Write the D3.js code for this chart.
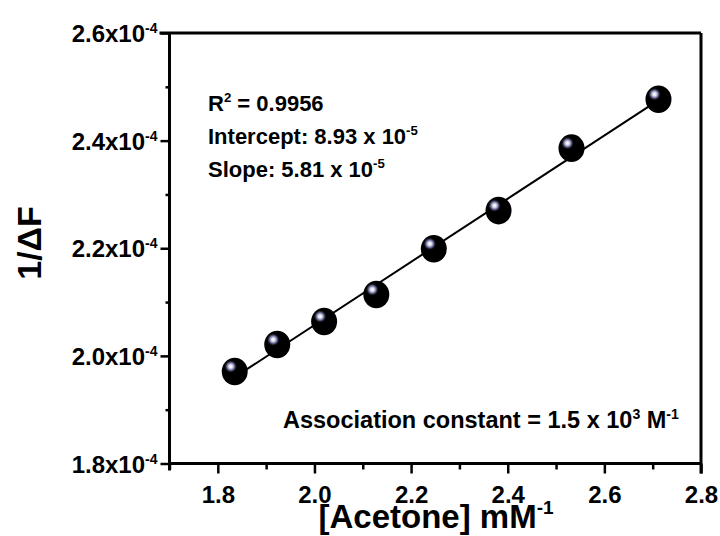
<!DOCTYPE html>
<html><head><meta charset="utf-8">
<script src="https://cdn.jsdelivr.net/npm/d3@7"></script>
<style>
html,body{margin:0;padding:0;background:#fff;}
svg{display:block;font-family:"Liberation Sans",Arial,sans-serif;font-weight:bold;}
</style></head>
<body>
<svg id="chart" width="720" height="536"></svg>
<script>
// ---- data ----
const acetoneInv = [1.835, 1.923, 2.020, 2.128, 2.247, 2.381, 2.532, 2.712];
const invDeltaF = [1.971e-4, 2.021e-4, 2.064e-4, 2.114e-4, 2.199e-4, 2.270e-4, 2.386e-4, 2.477e-4];
const xMajorTicks = [1.8, 2.0, 2.2, 2.4, 2.6, 2.8];
const xMinorTicks = [1.7, 1.9, 2.1, 2.3, 2.5, 2.7];
const yMajorTicks = [1.8e-4, 2.0e-4, 2.2e-4, 2.4e-4, 2.6e-4];
const yMinorTicks = [1.9e-4, 2.1e-4, 2.3e-4, 2.5e-4];
const yTickMantissa = ["1.8x10", "2.0x10", "2.2x10", "2.4x10", "2.6x10"];
const yTickExponent = "-4";
const statLines = [
  [["R", 0], ["2", 1], [" = 0.9956", 0]],
  [["Intercept: 8.93 x 10", 0], ["-5", 1]],
  [["Slope: 5.81 x 10", 0], ["-5", 1]]
];
const assocLine = [["Association constant = 1.5 x 10", 0], ["3", 1], [" M", 0], ["-1", 1]];

// ---- layout ----
const svg = d3.select("#chart");
const L = 169.5, R = 701, T = 33, B = 463.5;
const x = d3.scaleLinear().domain([1.7, 2.8]).range([L, R]);
const y = d3.scaleLinear().domain([1.8e-4, 2.6e-4]).range([B, T]);

// gradient for sphere highlight
const defs = svg.append("defs");
const g1 = defs.append("radialGradient").attr("id", "hl").attr("cx", "50%").attr("cy", "50%").attr("r", "50%");
g1.append("stop").attr("offset", "0%").attr("stop-color", "#ffffff").attr("stop-opacity", 1);
g1.append("stop").attr("offset", "25%").attr("stop-color", "#e6e6f2").attr("stop-opacity", 1);
g1.append("stop").attr("offset", "55%").attr("stop-color", "#7a7aa6").attr("stop-opacity", 1);
g1.append("stop").attr("offset", "80%").attr("stop-color", "#25253a").attr("stop-opacity", 0.8);
g1.append("stop").attr("offset", "100%").attr("stop-color", "#000000").attr("stop-opacity", 0);

// ---- axes ----
function styleAxis(g, sw) {
  g.select(".domain").attr("stroke", "#000").attr("stroke-width", 3);
  g.selectAll(".tick line").attr("stroke", "#000").attr("stroke-width", sw);
}
// left minor
svg.append("g").attr("transform", `translate(${L},0)`)
  .call(d3.axisLeft(y).tickValues(yMinorTicks).tickSize(4).tickSizeOuter(0).tickFormat(""))
  .call(g => { styleAxis(g, 2.5); g.select(".domain").remove(); });
// bottom minor
svg.append("g").attr("transform", `translate(0,${B})`)
  .call(d3.axisBottom(x).tickValues(xMinorTicks).tickSize(6).tickSizeOuter(0).tickFormat(""))
  .call(g => { styleAxis(g, 2.5); g.select(".domain").remove(); });

// left major
const yAx = svg.append("g").attr("transform", `translate(${L},0)`)
  .call(d3.axisLeft(y).tickValues(yMajorTicks).tickSize(9).tickSizeOuter(0));
styleAxis(yAx, 2.5);
yAx.select(".domain").attr("d", `M0,${B + 7}V${T}`);
yAx.selectAll(".tick text").each(function(d, i) {
  const t = d3.select(this);
  t.text("").attr("x", -12).attr("dy", "0.36em").attr("fill", "#000")
    .attr("font-size", 24).attr("font-family", "Liberation Sans, Arial, sans-serif")
    .attr("font-weight", "bold").attr("text-anchor", "end");
  t.append("tspan").text(yTickMantissa[i]);
  t.append("tspan").attr("font-size", 14).attr("dy", -9).text(yTickExponent);
});

// bottom major
const xAx = svg.append("g").attr("transform", `translate(0,${B})`)
  .call(d3.axisBottom(x).tickValues(xMajorTicks).tickSize(10).tickSizeOuter(0).tickFormat(d3.format(".1f")));
styleAxis(xAx, 2.5);
xAx.select(".domain").attr("d", `M${L},0H${R}`);
xAx.selectAll(".tick text").attr("y", 22).attr("dy", "0.71em").attr("fill", "#000")
  .attr("font-size", 24).attr("font-family", "Liberation Sans, Arial, sans-serif").attr("font-weight", "bold");

// top & right frame
svg.append("g").attr("transform", `translate(0,${T})`)
  .call(d3.axisTop(x).tickValues([]).tickSizeOuter(0))
  .call(g => { g.select(".domain").attr("stroke", "#000").attr("stroke-width", 3).attr("d", `M${L - 10},0H${R}`); });
svg.append("g").attr("transform", `translate(${R},0)`)
  .call(d3.axisRight(y).tickValues([]).tickSizeOuter(0))
  .call(g => { g.select(".domain").attr("stroke", "#000").attr("stroke-width", 3).attr("d", `M0,${T}V${B + 10}`); });

// ---- fit line (least squares from data) ----
const n = acetoneInv.length;
const mx = d3.mean(acetoneInv), my = d3.mean(invDeltaF);
let sxy = 0, sxx = 0;
for (let i = 0; i < n; i++) { sxy += (acetoneInv[i] - mx) * (invDeltaF[i] - my); sxx += (acetoneInv[i] - mx) ** 2; }
const slope = sxy / sxx, icpt = my - slope * mx;
const x0 = d3.min(acetoneInv), x1 = d3.max(acetoneInv);
svg.append("path")
  .datum([[x0, icpt + slope * x0], [x1, icpt + slope * x1]])
  .attr("d", d3.line().x(d => x(d[0])).y(d => y(d[1])))
  .attr("stroke", "#000").attr("stroke-width", 2).attr("fill", "none");

// ---- markers ----
const pts = acetoneInv.map((v, i) => [v, invDeltaF[i]]);
const mk = svg.append("g").selectAll("g").data(pts).join("g")
  .attr("transform", d => `translate(${x(d[0])},${y(d[1])})`);
mk.append("ellipse").attr("rx", 13).attr("ry", 13.8).attr("fill", "#000");
mk.append("circle").attr("cx", -4).attr("cy", -5).attr("r", 6.5).attr("fill", "url(#hl)");

// ---- titles ----
const xt = svg.append("text").attr("x", 436).attr("y", 528).attr("text-anchor", "middle")
  .attr("font-size", 33).attr("fill", "#000");
xt.append("tspan").text("[Acetone] mM");
xt.append("tspan").attr("font-size", 19).attr("dy", -14).text("-1");

svg.append("text").attr("transform", "translate(41,243) rotate(-90)").attr("text-anchor", "middle")
  .attr("font-size", 34).attr("fill", "#000").text("1/\u0394F");

// ---- annotations ----
function richText(parts, px, py, fs) {
  const t = svg.append("text").attr("x", px).attr("y", py).attr("font-size", fs).attr("fill", "#000");
  let raised = 0;
  parts.forEach(([s, sup]) => {
    const ts = t.append("tspan").text(s);
    if (sup && !raised) { ts.attr("font-size", fs * 0.6).attr("dy", -9); raised = 1; }
    else if (!sup && raised) { ts.attr("dy", 9); raised = 0; }
    else if (sup) ts.attr("font-size", fs * 0.6);
  });
}
const statY = [111, 144, 177];
statLines.forEach((p, i) => richText(p, 208, statY[i], 22));
richText(assocLine, 283, 428, 23.5);
</script>
</body></html>
